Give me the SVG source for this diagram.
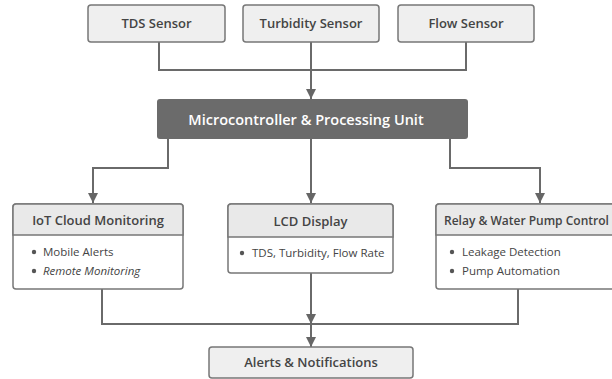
<svg xmlns="http://www.w3.org/2000/svg" width="612" height="379" viewBox="0 0 612 379">
<defs>
<marker id="ah" viewBox="0 0 10 10" refX="10" refY="5" markerWidth="10" markerHeight="10" markerUnits="userSpaceOnUse" orient="auto">
<path d="M0,0 L10,5 L0,10 Z" fill="#666"/>
</marker>
<style>
.box{fill:#efefef;stroke:#777;stroke-width:1.5}
.hdr{fill:#e9e9e9;stroke:#777;stroke-width:1.5}
.ln{fill:none;stroke:#6a6a6a;stroke-width:2}
.t{font-family:"Open Sans","Noto Sans",sans-serif;font-size:13px;font-weight:600;fill:#444;text-anchor:middle}
.b{font-family:"Open Sans","Noto Sans",sans-serif;font-size:11.5px;fill:#444}
.dot{fill:#555}
</style>
</defs>
<rect width="612" height="379" fill="#fff"/>
<g id="connectors">
<path class="ln" d="M159,42 V70 H466 V42"/>
<path class="ln" d="M311,42 V99" marker-end="url(#ah)"/>
<path class="ln" d="M168,139 V168 H93 V203" marker-end="url(#ah)"/>
<path class="ln" d="M311,139 V203" marker-end="url(#ah)"/>
<path class="ln" d="M450,139 V168 H540 V203" marker-end="url(#ah)"/>
<path class="ln" d="M102,289 V324 H518 V289"/>
<path class="ln" d="M311,273 V324" marker-end="url(#ah)"/>
<path class="ln" d="M311,324 V347" marker-end="url(#ah)"/>
</g>
<g id="tds">
<rect class="box" x="88" y="5" width="137" height="37" rx="3"/>
<text class="t" x="156.5" y="28">TDS Sensor</text>
</g>
<g id="turbidity">
<rect class="box" x="243" y="5" width="136" height="37" rx="3"/>
<text class="t" x="311" y="28">Turbidity Sensor</text>
</g>
<g id="flow">
<rect class="box" x="398" y="5" width="136" height="37" rx="3"/>
<text class="t" x="466" y="28">Flow Sensor</text>
</g>
<g id="mcu">
<rect x="157" y="99" width="311" height="40" rx="3" fill="#6b6b6b"/>
<text class="t" x="306" y="124.5" style="fill:#fff;font-size:14.5px">Microcontroller &amp; Processing Unit</text>
</g>
<g id="iot">
<rect class="box" x="13" y="204" width="170" height="85" rx="3" style="fill:#fff"/>
<path d="M13,235 V207 a3,3 0 0 1 3,-3 H180 a3,3 0 0 1 3,3 V235 Z" class="hdr"/>
<text class="t" x="98" y="224.5">IoT Cloud Monitoring</text>
<circle class="dot" cx="34" cy="252" r="2.2"/>
<text class="b" x="43" y="256">Mobile Alerts</text>
<circle class="dot" cx="34" cy="271" r="2.2"/>
<text class="b" x="43" y="275" font-style="italic">Remote Monitoring</text>
</g>
<g id="lcd">
<rect class="box" x="228" y="204" width="165" height="69" rx="3" style="fill:#fff"/>
<path d="M228,237 V207 a3,3 0 0 1 3,-3 H390 a3,3 0 0 1 3,3 V237 Z" class="hdr"/>
<text class="t" x="310.5" y="225.5">LCD Display</text>
<circle class="dot" cx="242" cy="253" r="2.2"/>
<text class="b" x="252" y="257">TDS, Turbidity, Flow Rate</text>
</g>
<g id="relay">
<rect class="box" x="436" y="204" width="186" height="85" rx="3" style="fill:#fff"/>
<path d="M436,235 V207 a3,3 0 0 1 3,-3 H619 a3,3 0 0 1 3,3 V235 Z" class="hdr"/>
<text class="t" x="444" y="224.5" style="text-anchor:start;font-size:12px">Relay &amp; Water Pump Control</text>
<circle class="dot" cx="452" cy="252" r="2.2"/>
<text class="b" x="462" y="256">Leakage Detection</text>
<circle class="dot" cx="452" cy="271" r="2.2"/>
<text class="b" x="462" y="275">Pump Automation</text>
</g>
<g id="alerts">
<rect class="box" x="209" y="347" width="204" height="31" rx="3"/>
<text class="t" x="311" y="367">Alerts &amp; Notifications</text>
</g>
</svg>
